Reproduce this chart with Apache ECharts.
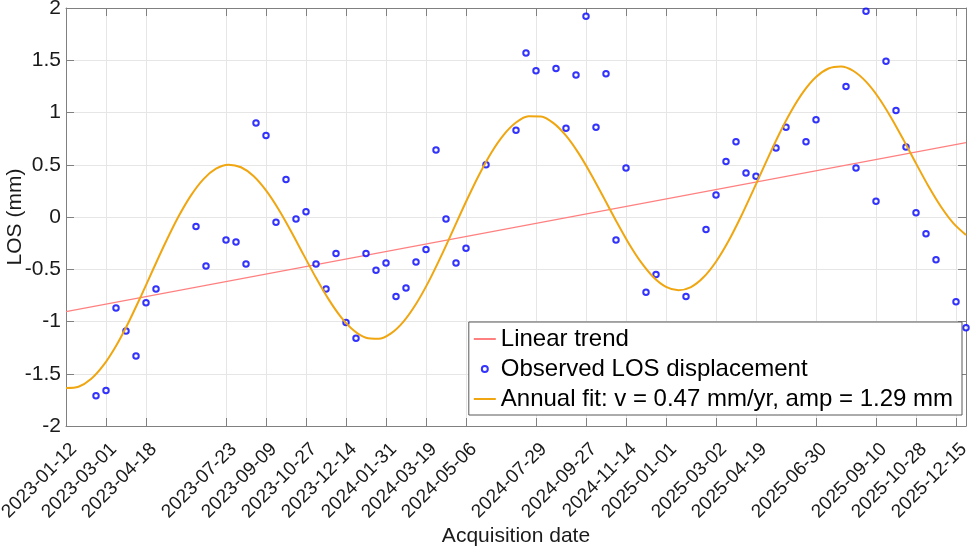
<!DOCTYPE html>
<html>
<head>
<meta charset="utf-8">
<script src="https://cdn.jsdelivr.net/npm/echarts@6/dist/echarts.min.js"></script>
<style>
  html, body { margin: 0; padding: 0; background: #fff; }
  #chart { width: 972px; height: 547px; }
</style>
</head>
<body>
<div id="chart"></div>
<script>
const tickLabels = ["2023-01-12", "2023-03-01", "2023-04-18", "2023-07-23", "2023-09-09", "2023-10-27",
  "2023-12-14", "2024-01-31", "2024-03-19", "2024-05-06", "2024-07-29", "2024-09-27", "2024-11-14",
  "2025-01-01", "2025-03-02", "2025-04-19", "2025-06-30", "2025-09-10", "2025-10-28", "2025-12-15"];

const obsDates = ["2023-02-17", "2023-03-01", "2023-03-13", "2023-03-25", "2023-04-06", "2023-04-18", "2023-04-30",
  "2023-06-17", "2023-06-29", "2023-07-23", "2023-08-04", "2023-08-16", "2023-08-28", "2023-09-09",
  "2023-09-21", "2023-10-03", "2023-10-15", "2023-10-27", "2023-11-08", "2023-11-20", "2023-12-02",
  "2023-12-14", "2023-12-26", "2024-01-07", "2024-01-19", "2024-01-31", "2024-02-12", "2024-02-24",
  "2024-03-07", "2024-03-19", "2024-03-31", "2024-04-12", "2024-04-24", "2024-05-06", "2024-05-30",
  "2024-07-05", "2024-07-17", "2024-07-29", "2024-08-22", "2024-09-03", "2024-09-15", "2024-09-27",
  "2024-10-09", "2024-10-21", "2024-11-02", "2024-11-14", "2024-12-08", "2024-12-20", "2025-01-25",
  "2025-02-18", "2025-03-02", "2025-03-14", "2025-03-26", "2025-04-07", "2025-04-19", "2025-05-13",
  "2025-05-25", "2025-06-18", "2025-06-30", "2025-08-05", "2025-08-17", "2025-08-29", "2025-09-10",
  "2025-09-22", "2025-10-04", "2025-10-16", "2025-10-28", "2025-11-09", "2025-11-21", "2025-12-15",
  "2025-12-27"];
const obsValues = [-1.71, -1.66, -0.87, -1.09, -1.33, -0.82, -0.69,
  -0.09, -0.47, -0.22, -0.24, -0.45, 0.90, 0.78,
  -0.05, 0.36, -0.02, 0.05, -0.45, -0.69, -0.35,
  -1.01, -1.16, -0.35, -0.51, -0.44, -0.76, -0.68,
  -0.43, -0.31, 0.64, -0.02, -0.44, -0.30, 0.50,
  0.83, 1.57, 1.40, 1.42, 0.85, 1.36, 1.92,
  0.86, 1.37, -0.22, 0.47, -0.72, -0.55, -0.76,
  -0.12, 0.21, 0.53, 0.72, 0.42, 0.39, 0.66,
  0.86, 0.72, 0.93, 1.25, 0.47, 1.97, 0.15,
  1.49, 1.02, 0.67, 0.04, -0.16, -0.41, -0.81,
  -1.06];

const trendDates = ["2023-01-12", "2025-12-27"];
const trendValues = [-0.906, 0.711];

// fitted curve, every 15 days from 2023-01-12
const fitDays = [0, 15, 30, 45, 60, 75, 90, 105, 120, 135, 150, 165, 180, 195, 210, 225, 240, 255,
  270, 285, 300, 315, 330, 345, 360, 375, 390, 405, 420, 435, 450, 465, 480, 495, 510, 525,
  540, 555, 570, 585, 600, 615, 630, 645, 660, 675, 690, 705, 720, 735, 750, 765, 780, 795,
  810, 825, 840, 855, 870, 885, 900, 915, 930, 945, 960, 975, 990, 1005, 1020, 1035, 1050, 1065, 1080];
const fitValues = [-1.637, -1.625, -1.551, -1.418, -1.234, -1.009, -0.757, -0.493, -0.235, 0.004, 0.207, 0.363,
  0.462, 0.501, 0.476, 0.392, 0.254, 0.074, -0.136, -0.360, -0.582, -0.786, -0.958, -1.084,
  -1.156, -1.166, -1.114, -1.001, -0.833, -0.621, -0.377, -0.116, 0.146, 0.393, 0.611, 0.784,
  0.904, 0.964, 0.962, 0.898, 0.778, 0.611, 0.410, 0.189, -0.035, -0.248, -0.432, -0.576,
  -0.668, -0.700, -0.670, -0.577, -0.428, -0.230, 0.005, 0.262, 0.525, 0.780, 1.009, 1.199,
  1.339, 1.421, 1.440, 1.397, 1.295, 1.144, 0.953, 0.738, 0.513, 0.294, 0.098, -0.061, -0.172];

const DAY = 86400000;
const ms = s => Date.parse(s + "T00:00:00Z");
const xMin = ms("2023-01-12");
const xMax = ms("2025-12-27");
const tickMs = tickLabels.map(ms);

const axisColor = "#808080";
const gridColor = "#e6e6e6";
const textColor = "#1a1a1a";
const font = "'Liberation Sans', Arial, sans-serif";

const chart = echarts.init(document.getElementById("chart"));
const option = {
  animation: false,
  textStyle: { fontFamily: font },
  grid: { left: 66, right: 6, top: 8, bottom: 121, outerBoundsMode: "none" },
  legend: {
    orient: "vertical",
    right: 10,
    top: 322,
    itemWidth: 22,
    itemHeight: 6,
    itemGap: 6,
    itemTextGap: 3,
    padding: [5, 9, 4, 4],
    backgroundColor: "#fff",
    borderColor: "#595959",
    borderWidth: 1,
    textStyle: { fontSize: 24, color: "#000", fontFamily: font },
    data: [
      { name: "Linear trend", itemStyle: { color: "rgba(0,0,0,0)", borderWidth: 0 } },
      { name: "Observed LOS displacement" },
      { name: "Annual fit: v = 0.47 mm/yr, amp = 1.29 mm", itemStyle: { color: "rgba(0,0,0,0)", borderWidth: 0 } }
    ]
  },
  xAxis: [
    {
      type: "value",
      min: xMin,
      max: xMax,
      position: "bottom",
      axisLine: { show: true, onZero: false, lineStyle: { color: axisColor } },
      axisTick: { show: true, inside: true, length: 8, customValues: tickMs, lineStyle: { color: axisColor } },
      axisLabel: {
        customValues: tickMs,
        rotate: 45,
        fontSize: 19,
        color: textColor,
        align: "right",
        verticalAlign: "middle",
        padding: [0, -11, 0, 0],
        margin: 28,
        formatter: v => new Date(v).toISOString().slice(0, 10)
      },
      splitLine: { show: true, lineStyle: { color: gridColor } },
      name: "Acquisition date",
      nameLocation: "middle",
      nameGap: 110,
      nameMoveOverlap: false,
      nameTextStyle: { fontSize: 21, color: textColor, verticalAlign: "middle" }
    },
    {
      type: "value",
      min: xMin,
      max: xMax,
      position: "top",
      axisLine: { show: true, onZero: false, lineStyle: { color: axisColor } },
      axisTick: { show: true, inside: true, length: 8, customValues: tickMs, lineStyle: { color: axisColor } },
      axisLabel: { show: false },
      splitLine: { show: false }
    }
  ],
  yAxis: [
    {
      type: "value",
      min: -2,
      max: 2,
      interval: 0.5,
      position: "left",
      axisLine: { show: true, onZero: false, lineStyle: { color: axisColor } },
      axisTick: { show: true, inside: true, length: 8, lineStyle: { color: axisColor } },
      axisLabel: { fontSize: 21, color: textColor, margin: 5 },
      splitLine: { show: true, lineStyle: { color: gridColor } },
      name: "LOS (mm)",
      nameLocation: "middle",
      nameRotate: 90,
      nameGap: 51,
      nameMoveOverlap: false,
      nameTextStyle: { fontSize: 21, color: textColor, verticalAlign: "middle" }
    },
    {
      type: "value",
      min: -2,
      max: 2,
      interval: 0.5,
      position: "right",
      axisLine: { show: true, onZero: false, lineStyle: { color: axisColor } },
      axisTick: { show: true, inside: true, length: 8, lineStyle: { color: axisColor } },
      axisLabel: { show: false },
      splitLine: { show: false }
    }
  ],
  series: [
    {
      name: "Linear trend",
      type: "line",
      symbol: "none",
      data: trendDates.map((d, i) => [ms(d), trendValues[i]]),
      lineStyle: { color: "#ff8080", width: 1.2 },
      itemStyle: { color: "#ff8080" },
      z: 2
    },
    {
      name: "Observed LOS displacement",
      type: "scatter",
      symbol: "emptyCircle",
      symbolSize: 5.5,
      data: obsDates.map((d, i) => [ms(d), obsValues[i]]),
      itemStyle: { color: "#0000ff", borderColor: "#0000ff", borderWidth: 1.6 },
      z: 3
    },
    {
      name: "Annual fit: v = 0.47 mm/yr, amp = 1.29 mm",
      type: "line",
      symbol: "none",
      smooth: 0.3,
      data: fitDays.map((d, i) => [xMin + d * DAY, fitValues[i]]),
      lineStyle: { color: "#efa610", width: 2 },
      itemStyle: { color: "#efa610" },
      z: 4
    }
  ]
};
chart.setOption(option);
</script>
</body>
</html>
